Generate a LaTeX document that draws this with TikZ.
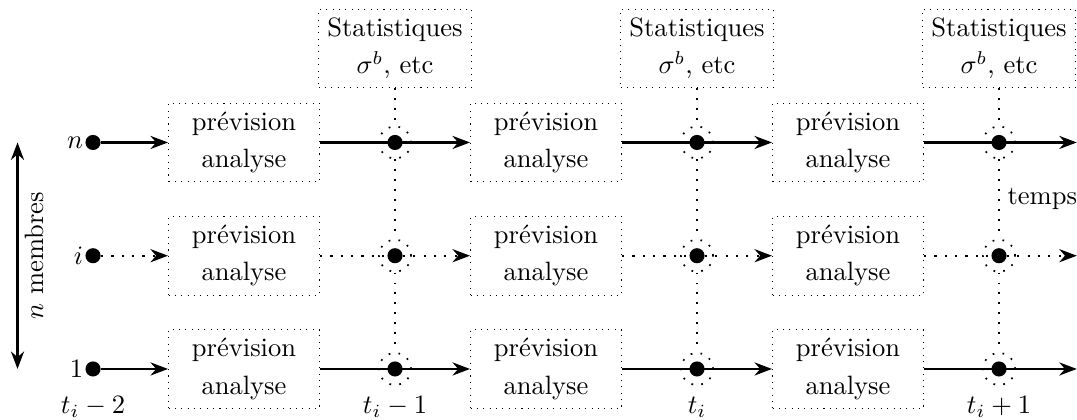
\documentclass[tikz,border=0pt]{standalone}
\usetikzlibrary{arrows.meta}
\begin{document}
\begin{tikzpicture}[
  box/.style={draw, dotted, minimum width=2cm, minimum height=1cm, align=center, inner sep=3.33pt},
  ring/.style={circle, draw, line width=0.65pt, dash pattern=on 0.65pt off 3.1pt, minimum size=0.424cm, inner sep=0pt},
  dot/.style={circle, fill, minimum size=0.2cm, inner sep=0pt},
  solidarrow/.style={thick, -{Stealth}},
  dotarrow/.style={thick, dash pattern=on 0.8pt off 3.1pt, -{Stealth}},
  vline/.style={line width=0.65pt, dash pattern=on 0.65pt off 3.1pt},
  tlab/.style={anchor=base, inner sep=0pt},
  rowlab/.style={inner sep=0.5pt}
]
\useasboundingbox (-1.232,-0.663) rectangle (13.033,4.887);

% statistics boxes
\foreach \k/\x in {1/4, 2/8, 3/12}{
  \node[box] (s\k) at (\x,4.245) {Statistiques\\[2pt]$\sigma^b$, etc};
}

% rows
\foreach \r/\y in {n/3, i/1.5, 1/0}{
  \node[dot, label={[rowlab]left:$\r$}] (d\r0) at (0,\y) {};
  \foreach \k/\x in {1/2, 2/6, 3/10}{
    \node[box] (b\r\k) at (\x,\y) {prévision\\[2pt]analyse};
  }
  \foreach \k/\x in {1/4, 2/8, 3/12}{
    \node[ring] (r\r\k) at (\x,\y) {};
    \node[dot] (d\r\k) at (\x,\y) {};
  }
  \coordinate (e\r) at (13.03,\y);
}

% vertical dotted lines
\foreach \k in {1,2,3}{
  \draw[vline] (s\k.south) -- (rn\k.north);
  \draw[vline] (rn\k.south) -- (ri\k.north);
  \draw[vline] (ri\k.south) -- (r1\k.north);
}

% solid rows
\foreach \r in {n,1}{
  \draw[solidarrow] (d\r0) -- (b\r1.west);
  \draw[solidarrow] (b\r1.east) -- (b\r2.west);
  \draw[solidarrow] (b\r2.east) -- (b\r3.west);
  \draw[solidarrow] (b\r3.east) -- (e\r);
}
% dotted row
\draw[dotarrow] (di0) -- (bi1.west);
\draw[dotarrow] (bi1.east) -- (bi2.west);
\draw[dotarrow] (bi2.east) -- (bi3.west);
\draw[dotarrow] (bi3.east) -- (ei);

% time labels
\node[tlab] (t0) at (0,-0.596) {$t_i-2$};
\node[tlab] (t1) at (4,-0.596) {$t_i-1$};
\node[tlab] (t2) at (8,-0.596) {$t_i$};
\node[tlab] (t3) at (12,-0.596) {$t_i+1$};

\node[anchor=base west, inner sep=0pt] (temps) at (12.106,2.172) {temps};

% members arrow
\coordinate (mtop) at (-1,3);
\coordinate (mbot) at (-1,0);
\draw[thick, {Stealth}-{Stealth}] (mtop) -- (mbot);
\node[rotate=90, anchor=base, inner sep=0pt] (nm) at (-0.662,1.5) {$n$ membres};
\end{tikzpicture}
\end{document}
